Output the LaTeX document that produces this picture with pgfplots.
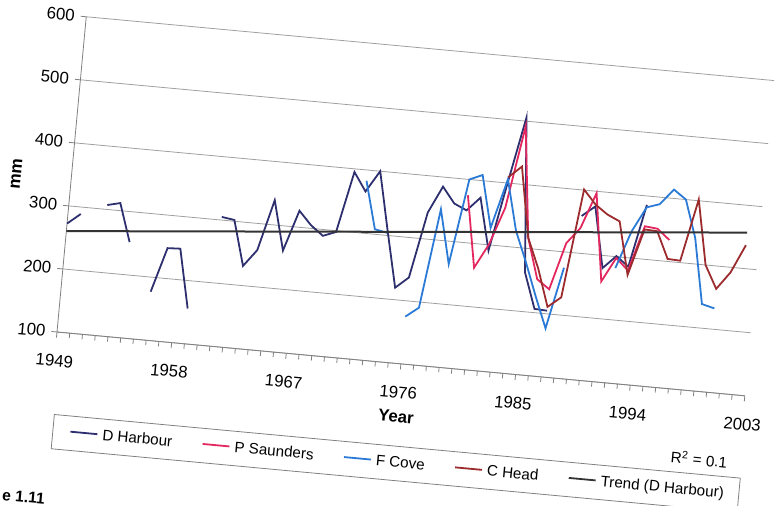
\documentclass[border=0pt]{standalone}
\usepackage{fontspec}
\setmainfont{Liberation Sans}
\usepackage{pgfplots}
\pgfplotsset{compat=1.18}
\definecolor{dharb}{HTML}{2E2F6E}
\definecolor{psaun}{HTML}{E3285F}
\definecolor{fcove}{HTML}{2B7BD6}
\definecolor{chead}{HTML}{9C2B2E}
\definecolor{trendc}{HTML}{333333}
\newcommand{\legline}[1]{\textcolor{#1}{\rule[2.3pt]{13.5pt}{0.9pt}}\hspace{2.6pt}}
\begin{document}
\begin{tikzpicture}
\useasboundingbox (-28.5pt,-55.1pt) rectangle (360pt,197.9pt);
\begin{axis}[
  rotate around={-5.3:(0,0)},
  clip=false,
  scale only axis, width=345.4pt, height=158.3pt,
  xmin=1949, xmax=2003, ymin=100, ymax=600,
  axis x line*=bottom, axis y line*=left,
  axis line style={gray, line width=0.4pt},
  xtick={1949,1958,1967,1976,1985,1994,2003},
  minor x tick num=8,
  ytick={100,200,...,600},
  ymajorgrids, grid style={gray!75, line width=0.4pt},
  tick align=outside, major tick length=2.8pt, minor tick length=2.5pt,
  tick style={gray, line width=0.4pt},
  /pgf/number format/assume math mode=true,
  /pgf/number format/1000 sep={},
  tick label style={font=\fontsize{8.4}{10}\selectfont},
  xticklabel style={anchor=center, rotate=-5.3, yshift=-11.5pt},
  yticklabel style={anchor=center, rotate=-5.3, xshift=-10pt},
  unbounded coords=jump,
  every axis plot/.append style={line width=0.9pt},
]
\addplot[dharb] coordinates {(1949,272)(1950,289)(1951,nan)(1952,307)(1953,312)(1954,252)(1955,nan)(1956,177)(1957,248)(1958,249)(1959,156)(1960,nan)(1961,305)(1962,302)(1963,231)(1964,258)(1965,339)(1966,261)(1967,326)(1968,305)(1969,290)(1970,298)(1971,395)(1972,366)(1973,400)(1974,308)(1975,219)(1976,237)(1977,342)(1978,385)(1979,360)(1980,351)(1981,373)(1982,291)(1983,400)(1984,506)(1985,262)(1986,206)(1987,205)(1988,nan)(1989,359)(1990,376)(1991,280)(1992,301)(1993,286)(1994,386)};
\addplot[psaun] coordinates {(1980,375)(1981,262)(1982,301)(1983,361)(1984,492)(1985,317)(1986,253)(1987,239)(1988,314)(1989,340)(1990,397)(1991,259)(1992,298)(1993,280)(1994,352)(1995,350)(1996,334)};
\addplot[fcove] coordinates {(1972,383)(1973,308)(1974,304)(1975,nan)(1976,175)(1977,191)(1978,349)(1979,264)(1980,400)(1981,409)(1982,327)(1983,406)(1984,326)(1985,278)(1986,226)(1987,177)(1988,275)(1989,nan)(1992,282)(1993,342)(1994,382)(1995,389)(1996,414)(1997,400)(1998,341)(1999,238)(2000,233)};
\addplot[chead] coordinates {(1983,409)(1984,428)(1985,317)(1986,270)(1987,211)(1988,228)(1989,401)(1990,379)(1991,365)(1992,356)(1993,273)(1994,347)(1995,346)(1996,304)(1997,303)(1998,402)(1999,300)(2000,264)(2001,292)(2002,337)};
\addplot[trendc, line width=1pt] coordinates {(1949,260)(2002,357)};
\node[draw=gray, line width=0.4pt, rotate=-5.3, anchor=north west,
      inner xsep=0pt, inner ysep=0pt, minimum height=17.2pt,
      font=\fontsize{7.6}{9}\selectfont] at (axis cs:1949.36,-29.5)
  {\hspace*{8.8pt}\legline{dharb}D Harbour\hspace{15.2pt}%
   \legline{psaun}P Saunders\hspace{15.2pt}%
   \legline{fcove}F Cove\hspace{15.2pt}%
   \legline{chead}C Head\hspace{15.2pt}%
   \legline{trendc}Trend (D Harbour)\hspace*{7.5pt}};
\node[font=\bfseries\fontsize{8.4}{10}\selectfont, rotate=-5.3] at (axis cs:1976,15.9) {Year};
\node[font=\bfseries\fontsize{8.6}{10}\selectfont, rotate=84.7] at (axis cs:1944.7,343) {mm};
\node[font=\fontsize{7.6}{9}\selectfont, rotate=-5.3] at (axis cs:1999.9,-6.1) {R\textsuperscript{2} = 0.1};
\node[font=\bfseries\fontsize{7.8}{9}\selectfont, rotate=-5.3, anchor=west, inner xsep=0pt] at (axis cs:1945.9,-164) {e 1.11};
\end{axis}
\end{tikzpicture}
\end{document}
